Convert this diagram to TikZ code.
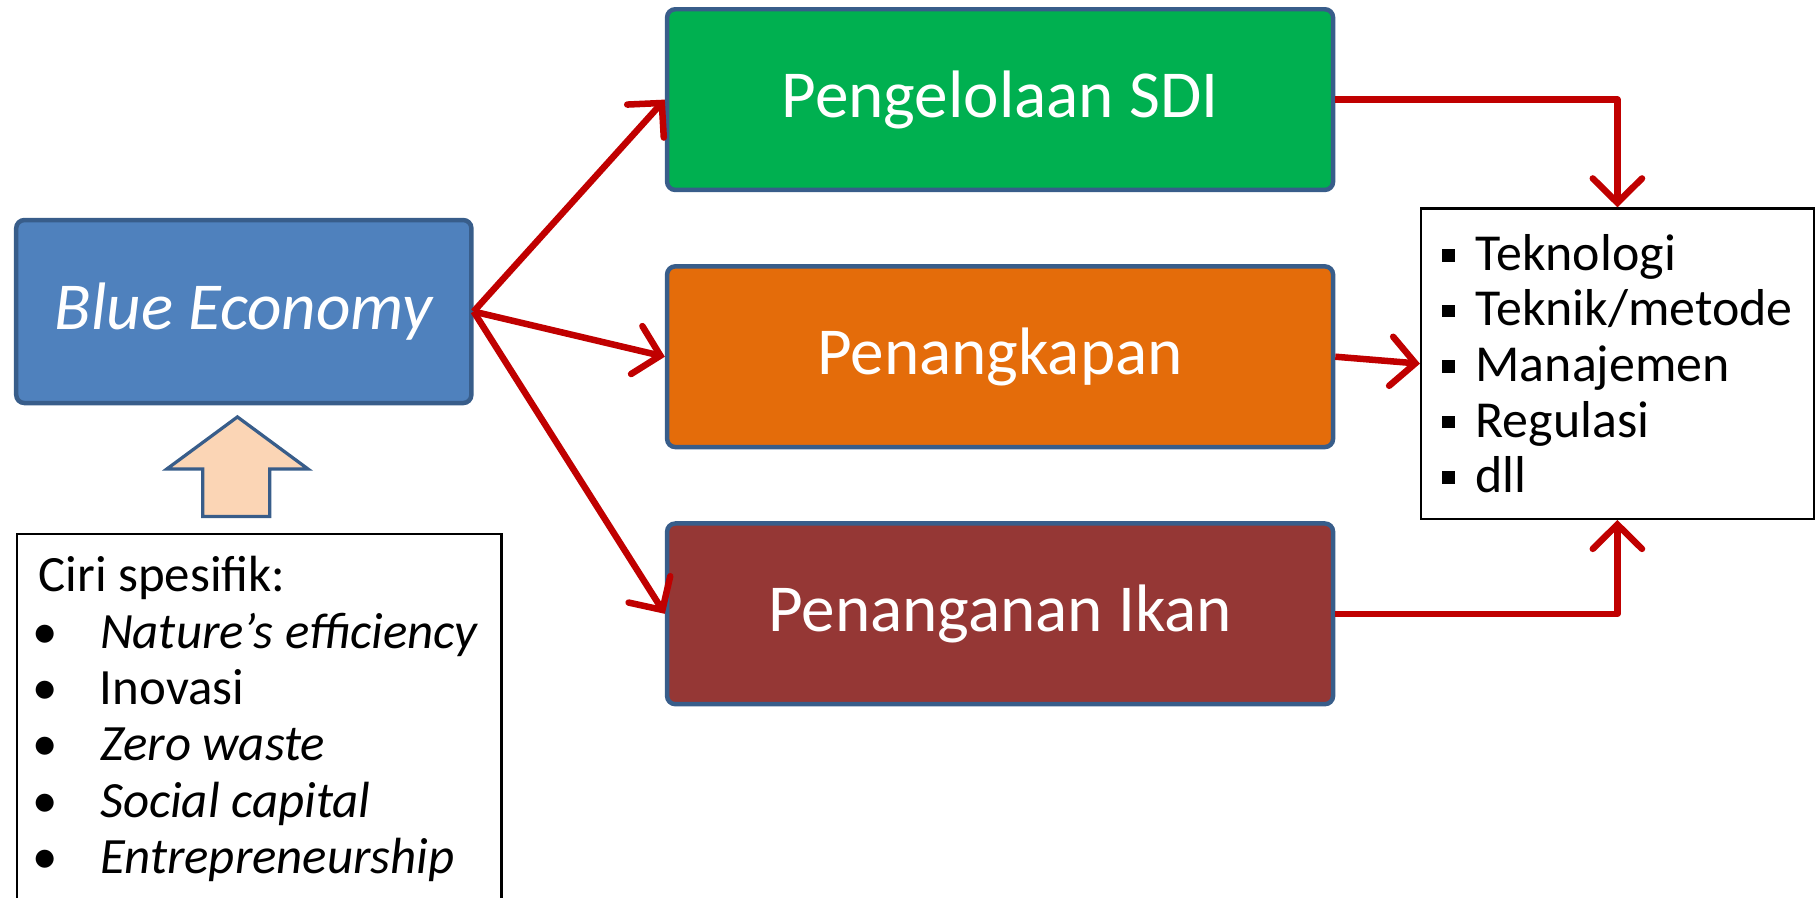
\documentclass[tikz,border=0pt]{standalone}
\usepackage{fontspec}
\setmainfont{Carlito}
\usetikzlibrary{arrows.meta}

\definecolor{birutua}{HTML}{385D8A}
\definecolor{biru}{HTML}{4F81BD}
\definecolor{hijau}{HTML}{00B050}
\definecolor{oranye}{HTML}{E46C0A}
\definecolor{coklat}{HTML}{953735}
\definecolor{merah}{HTML}{C00000}
\definecolor{peach}{HTML}{FBD5B5}

\newcommand{\kotakkecil}{\rule[0.15cm]{0.22cm}{0.22cm}\hspace{0.36cm}}
\newcommand{\butir}{\makebox[1.06cm][l]{\hspace{-0.1cm}\textbullet}}

\begin{document}
\begin{tikzpicture}[
    kotak/.style={draw=birutua, line width=2.2pt, rounded corners=4pt, text=white,
        minimum width=11.5cm, minimum height=3.12cm, font=\fontsize{33}{40}\selectfont},
    daftar/.style={draw=black, line width=1.1pt, fill=white},
    panah/.style={draw=merah, line width=3.2pt, line join=round,
        -{Straight Barb[length=0.42cm, width=0.85cm, line cap=round]}}
  ]
            \useasboundingbox (0,0) rectangle (31.36,15.5);

            \node[kotak, fill=biru, minimum width=7.86cm, minimum height=3.16cm,
                font=\fontsize{33}{40}\selectfont\itshape] (blue) at (4.21,10.12) {Blue Economy};
            \node[kotak, fill=hijau] (sdi) at (17.27,13.78) {Pengelolaan SDI};
            \node[kotak, fill=oranye] (tangkap) at (17.27,9.34) {Penangkapan};
            \node[kotak, fill=coklat] (ikan) at (17.27,4.90) {Penanganan Ikan};

            \node[daftar, minimum width=6.78cm, minimum height=5.36cm, align=left,
                font=\fontsize{25.5}{27.3}\selectfont] (alat) at (27.93,9.22)
                {\kotakkecil Teknologi\\ \kotakkecil Teknik/metode\\ \kotakkecil Manajemen\\
                 \kotakkecil Regulasi\\ \kotakkecil dll};

            \node[daftar, anchor=north west, minimum width=8.36cm, minimum height=6.8cm] (ciri) at (0.28,6.30) {};
            \node[anchor=north west, align=left, inner sep=0pt,
                font=\fontsize{25}{27.7}\selectfont] (ciritext) at (0.66,5.90)
                {Ciri spesifik:\\ \butir\textit{Nature's efficiency}\\ \butir Inovasi\\
                 \butir\textit{Zero waste}\\ \butir\textit{Social capital}\\ \butir\textit{Entrepreneurship}};

            \filldraw[fill=peach, draw=birutua, line width=1.6pt] (3.50,6.58) -- (3.50,7.40) -- (2.88,7.40)
                -- (4.10,8.30) -- (5.32,7.40) -- (4.66,7.40) -- (4.66,6.58) -- cycle;

            \draw[panah] (blue.east) -- (sdi.west);
            \draw[panah] (blue.east) -- (tangkap.west);
            \draw[panah] (blue.east) -- (ikan.west);
            \draw[panah] (sdi.east) -| (alat.north);
            \draw[panah] (tangkap.east) -- (alat.west);
            \draw[panah] (ikan.east) -| (alat.south);
        \end{tikzpicture}
\end{document}
